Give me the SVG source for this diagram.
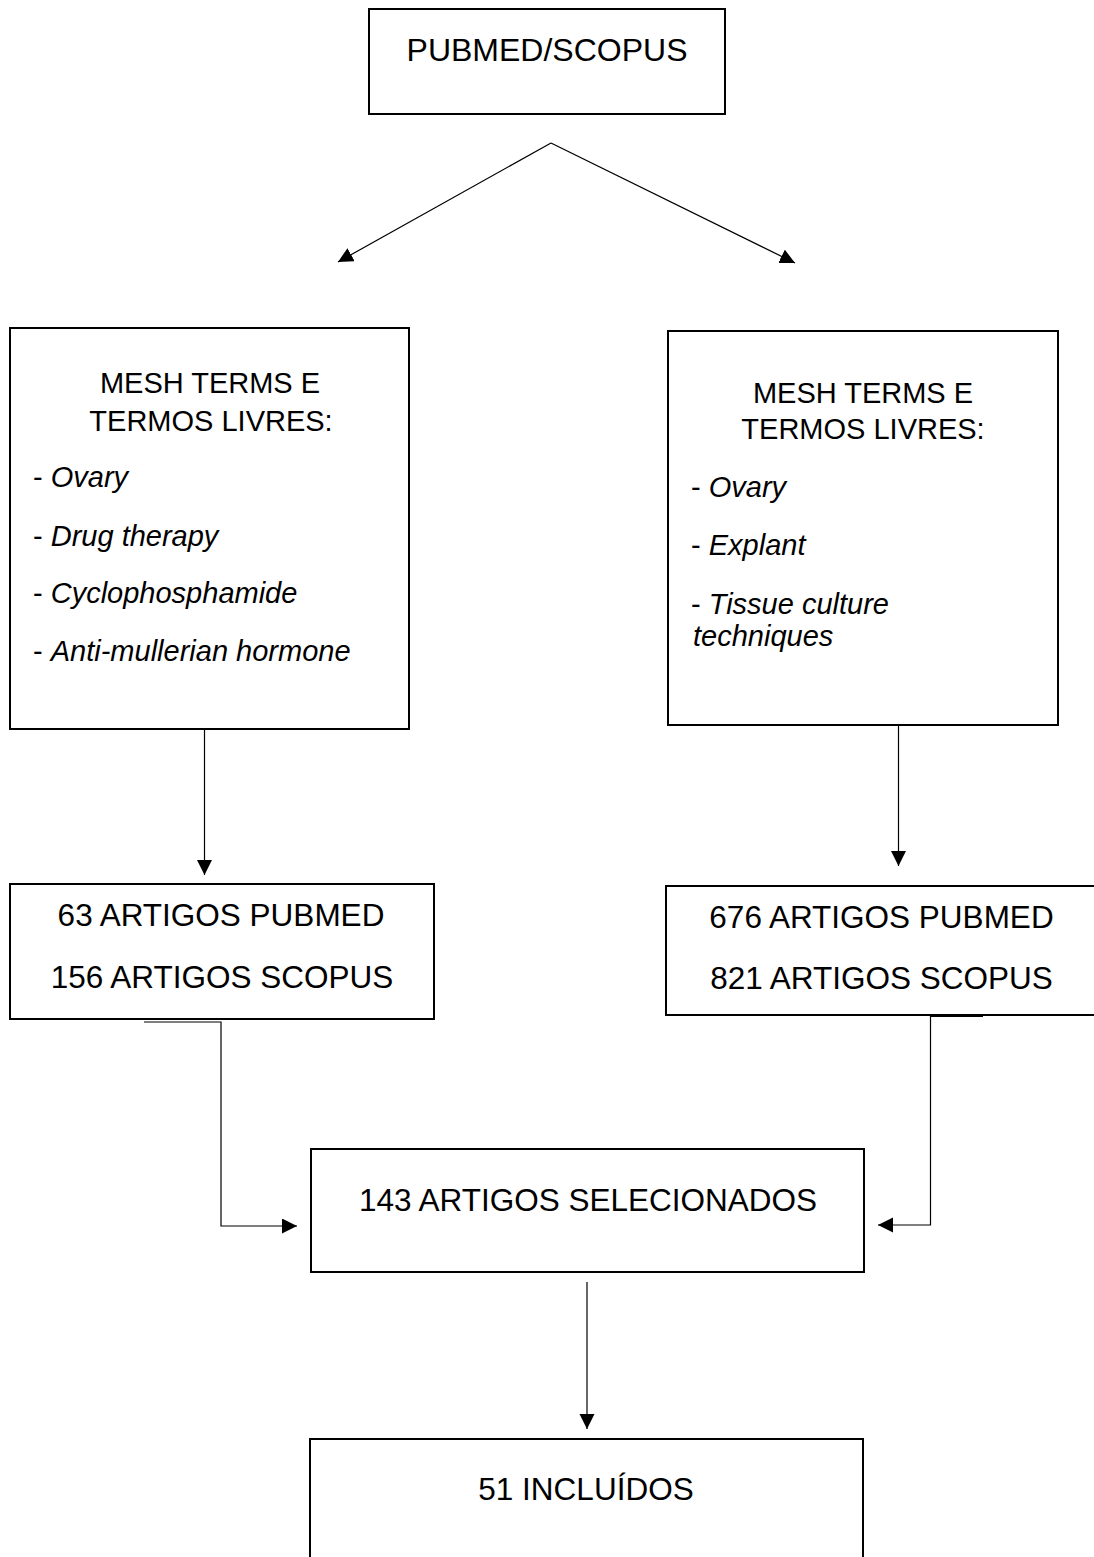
<svg xmlns="http://www.w3.org/2000/svg" width="1094" height="1557" viewBox="0 0 1094 1557">
<style>
.box{fill:#fff;stroke:#000;stroke-width:2}
.t{font-family:"Liberation Sans",Arial,sans-serif;fill:#000}
.h{font-size:29px}
.c{font-size:31.5px}
.i{font-style:italic}
.conn{fill:none;stroke:#000;stroke-width:1.2}
</style>
<defs>
<marker id="arr" markerUnits="userSpaceOnUse" markerWidth="16" markerHeight="16" refX="15" refY="7.5" orient="auto">
<path d="M0,0 L15,7.5 L0,15 z" fill="#000"/>
</marker>
</defs>
<rect width="1094" height="1557" fill="#fff"/>

<g id="connectors">
<line class="conn" x1="551" y1="143" x2="338" y2="262" marker-end="url(#arr)"/>
<line class="conn" x1="551" y1="143" x2="795" y2="263" marker-end="url(#arr)"/>
<line class="conn" x1="204.5" y1="729" x2="204.5" y2="875" marker-end="url(#arr)"/>
<line class="conn" x1="898.5" y1="720" x2="898.5" y2="866" marker-end="url(#arr)"/>
<polyline class="conn" points="144,1022 221,1022 221,1226 297,1226" marker-end="url(#arr)"/>
<line x1="930" y1="1016" x2="983" y2="1016" stroke="#000" stroke-width="2"/>
<polyline class="conn" points="930.5,1016 930.5,1225 878,1225" marker-end="url(#arr)"/>
<line class="conn" x1="587" y1="1282" x2="587" y2="1429" marker-end="url(#arr)"/>
</g>

<g id="node-top">
<rect class="box" x="369" y="9" width="356" height="105"/>
<text class="t" x="547" y="61" font-size="32" text-anchor="middle">PUBMED/SCOPUS</text>
</g>

<g id="node-mesh-left">
<rect class="box" x="10" y="328" width="399" height="401"/>
<text class="t h" x="210" y="393" text-anchor="middle">MESH TERMS E</text>
<text class="t h" x="211" y="431" text-anchor="middle">TERMOS LIVRES:</text>
<text class="t h" x="33" y="487">- <tspan class="i">Ovary</tspan></text>
<text class="t h" x="33" y="546">- <tspan class="i">Drug therapy</tspan></text>
<text class="t h" x="33" y="603">- <tspan class="i">Cyclophosphamide</tspan></text>
<text class="t h" x="33" y="661">- <tspan class="i">Anti-mullerian hormone</tspan></text>
</g>

<g id="node-mesh-right">
<rect class="box" x="668" y="331" width="390" height="394"/>
<text class="t h" x="863" y="403" text-anchor="middle">MESH TERMS E</text>
<text class="t h" x="863" y="439" text-anchor="middle">TERMOS LIVRES:</text>
<text class="t h" x="691" y="497">- <tspan class="i">Ovary</tspan></text>
<text class="t h" x="691" y="555">- <tspan class="i">Explant</tspan></text>
<text class="t h" x="691" y="614">- <tspan class="i">Tissue culture</tspan></text>
<text class="t h i" x="693" y="646">techniques</text>
</g>

<g id="node-count-left">
<rect class="box" x="10" y="884" width="424" height="135"/>
<text class="t c" x="221" y="926" text-anchor="middle">63 ARTIGOS PUBMED</text>
<text class="t c" x="222" y="988" text-anchor="middle">156 ARTIGOS SCOPUS</text>
</g>

<g id="node-count-right">
<rect class="box" x="666" y="886" width="440" height="129"/>
<text class="t c" x="881.5" y="928" text-anchor="middle">676 ARTIGOS PUBMED</text>
<text class="t c" x="881.5" y="989" text-anchor="middle">821 ARTIGOS SCOPUS</text>
</g>

<g id="node-selected">
<rect class="box" x="311" y="1149" width="553" height="123"/>
<text class="t c" x="588" y="1211" text-anchor="middle">143 ARTIGOS SELECIONADOS</text>
</g>

<g id="node-included">
<rect class="box" x="310" y="1439" width="553" height="140"/>
<text class="t c" x="586" y="1500" text-anchor="middle">51 INCLUÍDOS</text>
</g>
</svg>
